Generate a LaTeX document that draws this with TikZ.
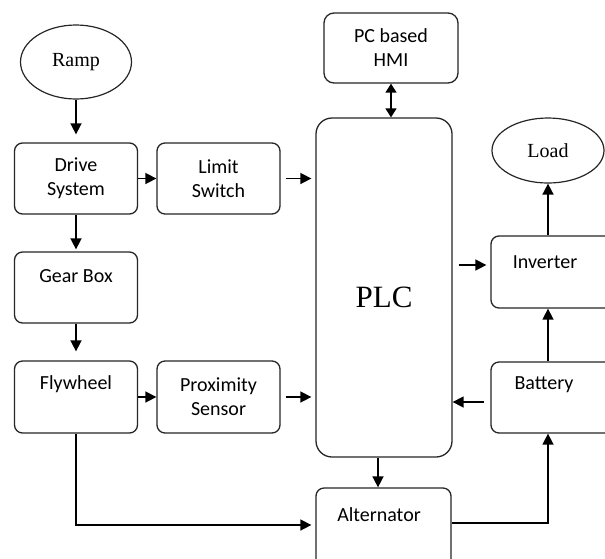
\documentclass[tikz,border=0pt]{standalone}
\usepackage{fontspec}
\setmainfont{Carlito}
\newfontfamily\serifface{Liberation Serif}
\usetikzlibrary{arrows.meta,shapes.geometric}
\begin{document}
\begin{tikzpicture}[x=1pt,y=-1pt,
  box/.style={draw=black!85, line width=1.3pt, rounded corners=8pt, inner sep=0pt, align=center,
    font=\fontsize{20}{24}\selectfont},
  lbl/.style={inner sep=0pt, align=center, font=\fontsize{20}{24}\selectfont},
  oval/.style={draw=black!85, ellipse, line width=1.2pt, inner sep=0pt, font=\serifface\fontsize{20}{24}\selectfont},
  arr/.style={line width=1.6pt, -{Triangle[length=11pt,width=11pt]}},
  darr/.style={line width=1.6pt, {Triangle[length=9pt,width=11pt]}-{Triangle[length=9pt,width=11pt]}},
]
\clip (0,0) rectangle (605,558);
\fill[white] (0,0) rectangle (605,558);

% nodes
\node[oval, minimum width=111pt, minimum height=74pt] (ramp) at (76,62) {Ramp};
\node[box, minimum width=123pt, minimum height=71pt] (ds) at (76,178.5) {Drive\\System};
\node[box, minimum width=123pt, minimum height=71pt] (ls) at (218.5,178.5) {Limit\\Switch};
\node[box, minimum width=123pt, minimum height=71pt] (gb) at (76,287.5) {};
\node[lbl] (gbt) at ([yshift=-25pt]gb.north) {Gear Box};
\node[box, minimum width=123pt, minimum height=72pt] (fw) at (76,397) {};
\node[lbl] (fwt) at ([yshift=-24pt]fw.north) {Flywheel};
\node[box, minimum width=123pt, minimum height=72pt] (ps) at (218.5,397) {Proximity\\Sensor};
\node[box, rounded corners=16pt, minimum width=136pt, minimum height=339pt] (plc) at (384,287.5) {};
\node[inner sep=0pt, font=\serifface\fontsize{31}{36}\selectfont] (plct) at ([yshift=-10pt]plc.center) {PLC};
\node[box, rounded corners=10pt, minimum width=134pt, minimum height=70pt] (hmi) at (391,48) {PC based\\HMI};
\node[oval, minimum width=112pt, minimum height=65pt] (load) at (548,150.5) {Load};
\node[box, minimum width=124pt, minimum height=72pt] (inv) at (553,272) {};
\node[lbl] (invt) at (545,262) {Inverter};
\node[box, minimum width=124pt, minimum height=71pt] (bat) at (553,397.5) {};
\node[lbl] (batt) at (544,385) {Battery};
\node[box, minimum width=135pt, minimum height=80pt] (alt) at (383.5,528) {};
\node[lbl] (altt) at (379,515) {Alternator};

% helper coordinates
\coordinate (pi) at ([yshift=7pt]inv.west);
\coordinate (bp) at ([yshift=-4.5pt]bat.west);
\coordinate (pa) at ([xshift=-6pt]plc.south);
\coordinate (ab) at ([yshift=5pt]alt.east);
\coordinate (fa) at ([yshift=3pt]alt.west);

% connectors
\draw[arr, shorten >=8pt] (ramp.south) -- (ds.north);
\draw[arr] (ds.east) -- (ls.west);
\draw[arr, shorten <=5pt, shorten >=4pt] (ls.east) -- (plc.west |- ls.east);
\draw[arr, shorten >=2pt] (ds.south) -- (gb.north);
\draw[arr, shorten >=9pt] (gb.south) -- (fw.north);
\draw[arr] (fw.east) -- (ps.west);
\draw[arr, shorten <=5pt, shorten >=4pt] (ps.east) -- (plc.west |- ps.east);
\draw[darr] (hmi.south) -- (hmi.south |- plc.north);
\draw[arr, shorten <=6pt, shorten >=4pt] (plc.east |- pi) -- (pi);
\draw[arr] (inv.north -| load.south) -- (load.south);
\draw[arr] (bat.north -| load.south) -- (inv.south -| load.south);
\draw[arr, shorten <=6pt] (bp) -- (plc.east |- bp);
\draw[arr] (pa) -- (pa |- alt.north);
\draw[arr, shorten >=4pt] (fw.south) |- (fa);
\draw[arr] (ab) -| (bat.south -| load.south);
\end{tikzpicture}
\end{document}
